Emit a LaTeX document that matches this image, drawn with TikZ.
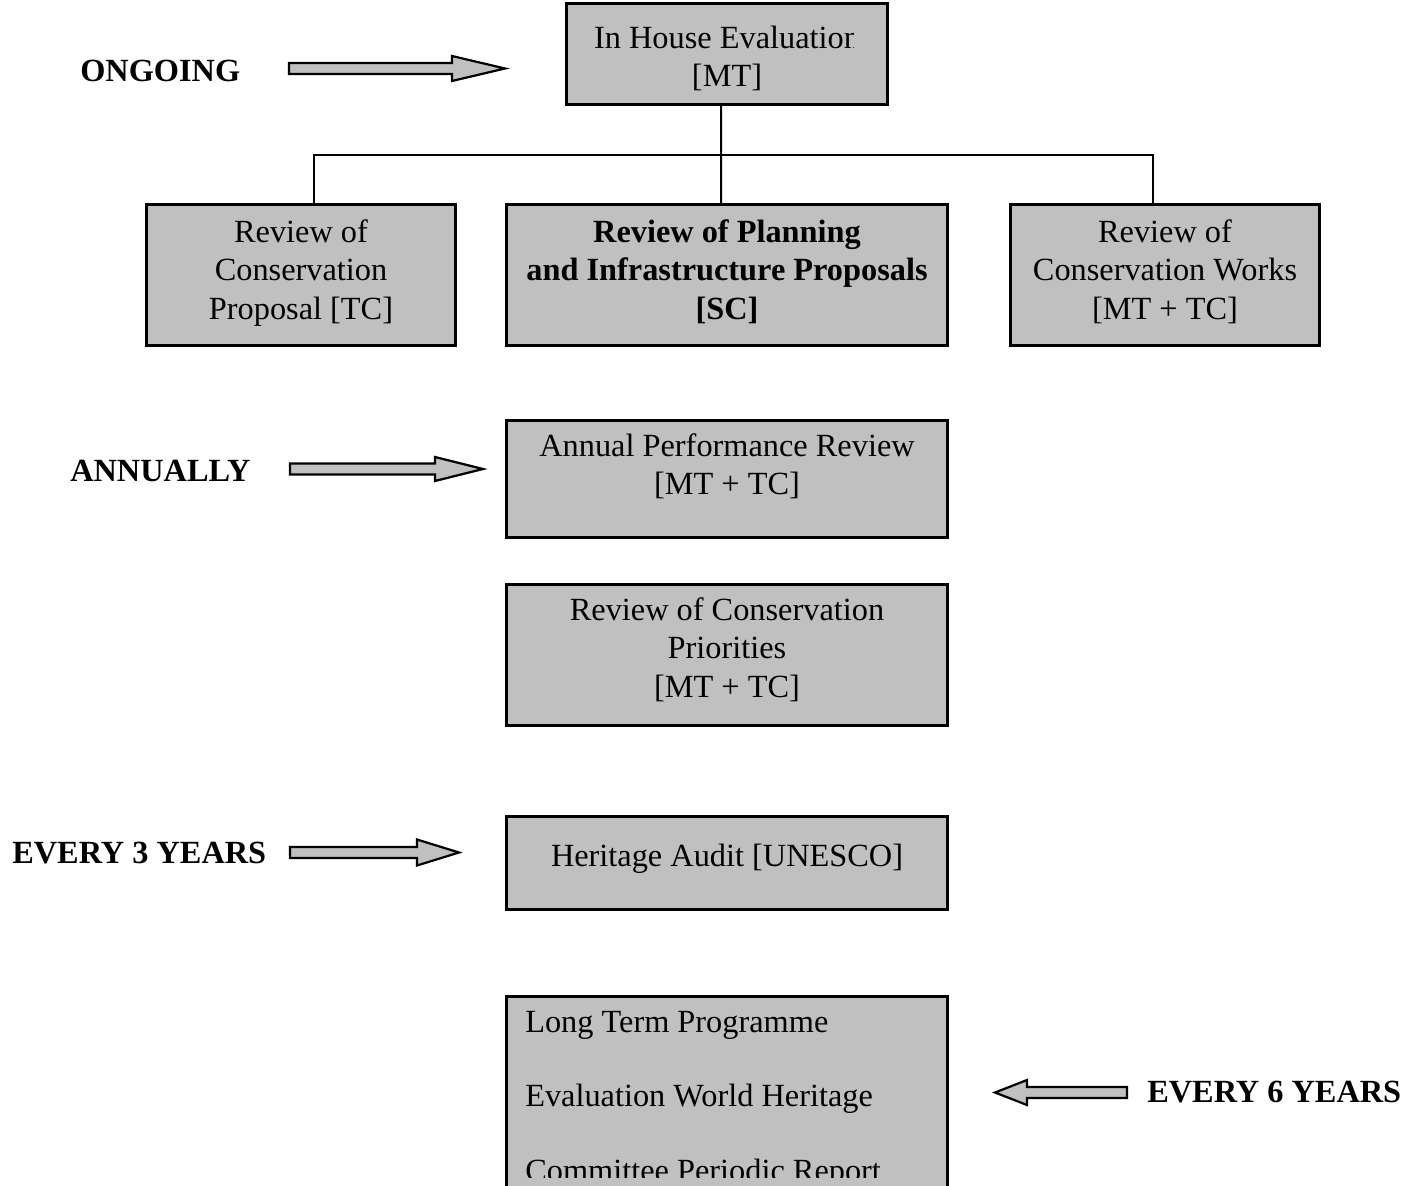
\documentclass[tikz,border=0pt]{standalone}
\usepackage{fontspec}
\setmainfont{Liberation Serif}
\usetikzlibrary{positioning}
\definecolor{boxgray}{HTML}{C0C0C0}

\begin{document}
\begin{tikzpicture}[x=0.25mm,y=-0.25mm,
   box/.style={draw,fill=boxgray,line width=0.75mm,inner sep=0pt,outer sep=0pt,anchor=north west},
   txt/.style={inner sep=0pt,anchor=north,align=center,font=\fontsize{23}{27.5}\selectfont},
   tag/.style={inner sep=0pt,anchor=base west,font=\fontsize{23}{27}\selectfont\bfseries},
   link/.style={line width=0.5mm},
   blockarrow/.style={draw,fill=boxgray,line width=0.55mm,line join=miter}]
   \useasboundingbox (0,0) rectangle (1417,1186);
   %boxes
   \node[box,minimum width=80.25mm,minimum height=25.25mm] (house) at (566.5,3.5) {};
   \node[box,minimum width=77.25mm,minimum height=35.25mm] (propA) at (146.5,204.5) {};
   \node[box,minimum width=110.25mm,minimum height=35.25mm] (planB) at (506.5,204.5) {};
   \node[box,minimum width=77.25mm,minimum height=35.25mm] (worksC) at (1010.5,204.5) {};
   \node[box,minimum width=110.25mm,minimum height=29.25mm] (annualD) at (506.5,420.5) {};
   \node[box,minimum width=110.25mm,minimum height=35.25mm] (prioE) at (506.5,584.5) {};
   \node[box,minimum width=110.25mm,minimum height=23.25mm] (auditF) at (506.5,816.5) {};
   \node[box,minimum width=110.25mm,minimum height=55mm] (longG) at (506.5,996.5) {};
   %texts
   \begin{scope}
     \clip (565,0) rectangle (853,110);
     \node[txt] (houseTxt) at ([yshift=-4.33mm]house.north) {\strut In House Evaluation\\{}[MT]};
   \end{scope}
   \node[txt] (propTxt) at ([yshift=-2.58mm]propA.north) {\strut Review of\\Conservation\\Proposal [TC]};
   \node[txt,font=\fontsize{23}{27.5}\selectfont\bfseries] (planTxt) at ([yshift=-2.58mm]planB.north)
      {\strut Review of Planning\\and Infrastructure Proposals\\{}[SC]};
   \node[txt] (worksTxt) at ([yshift=-2.58mm]worksC.north) {\strut Review of\\Conservation Works\\{}[MT + TC]};
   \node[txt] (annualTxt) at ([yshift=-2.08mm]annualD.north) {\strut Annual Performance Review\\{}[MT + TC]};
   \node[txt] (prioTxt) at ([yshift=-2.08mm]prioE.north) {\strut Review of Conservation\\Priorities\\{}[MT + TC]};
   \node[txt] (auditTxt) at ([yshift=-5.58mm]auditF.north) {\strut Heritage Audit [UNESCO]};
   \begin{scope}
     \clip (500,990) rectangle (955,1177);
     \node[txt,anchor=north west,align=left,font=\fontsize{23}{53}\selectfont] (longTxt) at (525,979.6)
        {\strut Long Term Programme\\Evaluation World Heritage\\Committee Periodic Report};
   \end{scope}
   %tree
   \coordinate (bus) at (721,155);
   \draw[link] ([xshift=-1.5mm]house.south) -- ([xshift=-1.5mm]planB.north);
   \draw[link] ([xshift=3.25mm]propA.north) |- (bus) -| ([xshift=-3mm]worksC.north);
   %labels
   \node[tag] (ongoing) at (80,82) {ONGOING};
   \node[tag] (annually) at (70,481) {ANNUALLY};
   \node[tag] (three) at (12,863) {EVERY 3 YEARS};
   \node[tag] (six) at (1147,1102) {EVERY 6 YEARS};
   %arrows
   \draw[blockarrow] (289,63) -- (452,63) -- (452,56) -- (505,68.5) -- (452,81) -- (452,74) -- (289,74) -- cycle;
   \draw[blockarrow] (290,463.5) -- (435,463.5) -- (435,457) -- (483,469) -- (435,481) -- (435,474.5) -- (290,474.5) -- cycle;
   \draw[blockarrow] (290,847) -- (417,847) -- (417,839.5) -- (459,852.5) -- (417,865.5) -- (417,858) -- (290,858) -- cycle;
   \draw[blockarrow] (1127,1087) -- (1027,1087) -- (1027,1080) -- (995,1092.5) -- (1027,1105) -- (1027,1098) -- (1127,1098) -- cycle;
\end{tikzpicture}
\end{document}
